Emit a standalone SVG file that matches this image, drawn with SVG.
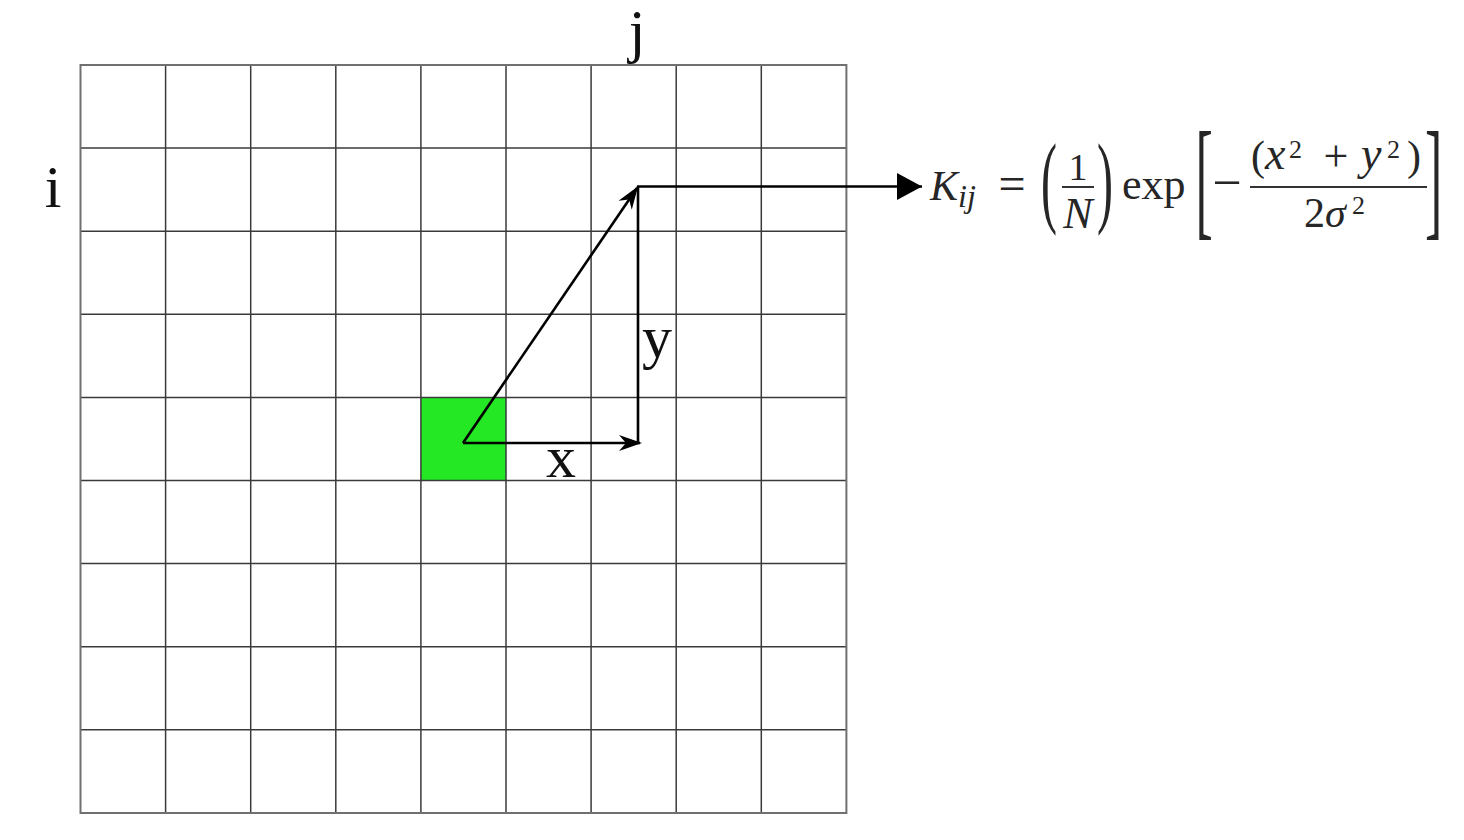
<svg xmlns="http://www.w3.org/2000/svg" width="1464" height="840" viewBox="0 0 1464 840">
<style>
.grid line{stroke:#3a3a3a;stroke-width:1.5}
.border{fill:none;stroke:#707070;stroke-width:2}
.lbl{font-family:"Liberation Serif","Times New Roman",serif;font-size:60px;fill:#111}
.m{font-family:"Liberation Serif","Times New Roman",serif;fill:#262626}
.it{font-style:italic}
.conn{stroke:#000;stroke-width:2.6;fill:none}
.rule{stroke:#333;stroke-width:2}
</style>
<defs>
<marker id="barb" markerUnits="userSpaceOnUse" markerWidth="28" markerHeight="20" viewBox="-24 -10 28 20" refX="0" refY="0" orient="auto">
<path d="M2,0 L-21,-8 L-14,0 L-21,8 Z" fill="#000"/>
</marker>
<marker id="tri" markerUnits="userSpaceOnUse" markerWidth="28" markerHeight="30" viewBox="-26 -14 28 28" refX="0" refY="0" orient="auto">
<path d="M0,0 L-25,-13.5 L-25,13.5 Z" fill="#000"/>
</marker>
</defs>
<rect width="1464" height="840" fill="#fff"/>
<g id="green-cell"><rect x="421" y="397.4" width="85.1" height="83.1" fill="#25e825"/></g>
<g id="grid" class="grid">
<line x1="165.6" y1="65" x2="165.6" y2="813"/>
<line x1="250.7" y1="65" x2="250.7" y2="813"/>
<line x1="335.8" y1="65" x2="335.8" y2="813"/>
<line x1="420.9" y1="65" x2="420.9" y2="813"/>
<line x1="506" y1="65" x2="506" y2="813"/>
<line x1="591.1" y1="65" x2="591.1" y2="813"/>
<line x1="676.2" y1="65" x2="676.2" y2="813"/>
<line x1="761.3" y1="65" x2="761.3" y2="813"/>
<line x1="80.5" y1="148.1" x2="846.4" y2="148.1"/>
<line x1="80.5" y1="231.2" x2="846.4" y2="231.2"/>
<line x1="80.5" y1="314.3" x2="846.4" y2="314.3"/>
<line x1="80.5" y1="397.4" x2="846.4" y2="397.4"/>
<line x1="80.5" y1="480.5" x2="846.4" y2="480.5"/>
<line x1="80.5" y1="563.6" x2="846.4" y2="563.6"/>
<line x1="80.5" y1="646.7" x2="846.4" y2="646.7"/>
<line x1="80.5" y1="729.8" x2="846.4" y2="729.8"/>
<rect class="border" x="80.5" y="65" width="765.9" height="748"/>
</g>
<g id="label-i"><text class="lbl" x="53" y="207" text-anchor="middle">i</text></g>
<g id="label-j"><text class="lbl" x="637" y="51" text-anchor="middle" font-size="52">j</text></g>
<g id="label-x"><text class="lbl" x="561" y="477" text-anchor="middle">x</text></g>
<g id="label-y"><text class="lbl" x="657" y="357" text-anchor="middle">y</text></g>
<g id="connectors">
<line class="conn" x1="463" y1="443" x2="640" y2="443" marker-end="url(#barb)"/>
<line class="conn" x1="638" y1="443" x2="638" y2="186"/>
<line class="conn" x1="463" y1="443" x2="637" y2="188" marker-end="url(#barb)"/>
<line class="conn" x1="637" y1="186.5" x2="922" y2="186.5" marker-end="url(#tri)"/>
</g>
<g id="formula">
<text class="m it" x="930" y="200" font-size="42">K</text>
<text class="m it" x="958" y="207" font-size="32">ij</text>
<text class="m" x="1012" y="200" font-size="48" text-anchor="middle">=</text>
<text class="m" transform="translate(1041,214) scale(1,2.13)" font-size="48">(</text>
<text class="m" x="1078" y="180" font-size="38" text-anchor="middle">1</text>
<line class="rule" x1="1062" y1="187" x2="1094" y2="187"/>
<text class="m it" x="1078" y="228" font-size="44" text-anchor="middle">N</text>
<text class="m" transform="translate(1097,214) scale(1,2.13)" font-size="48">)</text>
<text class="m" x="1122" y="199" font-size="44">exp</text>
<text class="m" transform="translate(1195.4,221.7) scale(1,2.52)" font-size="52">[</text>
<text class="m" x="1227" y="200" font-size="52" text-anchor="middle">−</text>
<line class="rule" x1="1250" y1="187" x2="1427" y2="187"/>
<text class="m" x="1251" y="170" font-size="42">(</text>
<text class="m it" x="1265" y="169" font-size="46">x</text>
<text class="m" x="1289" y="158" font-size="26">2</text>
<text class="m" x="1336" y="171" font-size="44" text-anchor="middle">+</text>
<text class="m it" x="1361" y="169" font-size="46">y</text>
<text class="m" x="1387" y="158" font-size="26">2</text>
<text class="m" x="1407" y="170" font-size="42">)</text>
<text class="m" x="1304" y="227" font-size="42">2</text>
<text class="m it" x="1325" y="227" font-size="42">σ</text>
<text class="m" x="1352" y="214" font-size="26">2</text>
<text class="m" transform="translate(1425,221.7) scale(1,2.52)" font-size="52">]</text>
</g>
</svg>
